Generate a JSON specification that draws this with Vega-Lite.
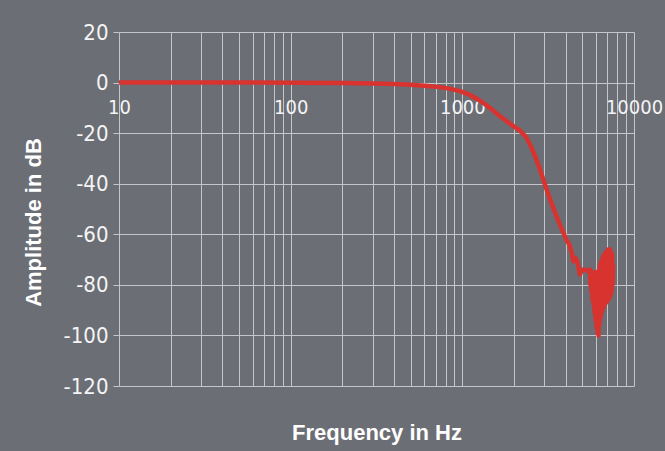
{
  "$schema": "https://vega.github.io/schema/vega-lite/v6.json",
  "width": 515,
  "height": 354,
  "autosize": "none",
  "padding": {"left": 119, "top": 32, "right": 31, "bottom": 65},
  "background": "#6b6e75",
  "config": {
    "view": {"stroke": null},
    "axis": {"labelFont": "Liberation Sans Narrow, Arial Narrow, DejaVu Sans Condensed, Roboto", "labelFontSize": 22, "labelColor": "#f4f4f4", "titleFont": "Liberation Sans", "titleFontWeight": "bold", "titleFontSize": 22, "titleColor": "#ffffff", "gridColor": "#c4c6ca", "gridWidth": 1, "gridOpacity": 1}
  },
  "data": {"values": [
    {"f": 10, "db": 0}, {"f": 50, "db": 0}, {"f": 100, "db": -0.05}, {"f": 200, "db": -0.2},
    {"f": 300, "db": -0.4}, {"f": 400, "db": -0.6}, {"f": 500, "db": -0.9}, {"f": 600, "db": -1.3},
    {"f": 741, "db": -1.8}, {"f": 850, "db": -2.5}, {"f": 968, "db": -3.4}, {"f": 1100, "db": -4.8},
    {"f": 1268, "db": -7.2}, {"f": 1450, "db": -10}, {"f": 1657, "db": -13.3}, {"f": 1900, "db": -16.3},
    {"f": 2166, "db": -19}, {"f": 2350, "db": -21.5}, {"f": 2479, "db": -24.5}, {"f": 2650, "db": -29},
    {"f": 2834, "db": -34.4}, {"f": 3097, "db": -42.3}, {"f": 3300, "db": -47.5}, {"f": 3545, "db": -53},
    {"f": 3800, "db": -58}, {"f": 4057, "db": -62.5}, {"f": 4200, "db": -64}, {"f": 4337, "db": -67.3},
    {"f": 4430, "db": -70.7}, {"f": 4527, "db": -69.3}, {"f": 4630, "db": -70}, {"f": 4731, "db": -72.6},
    {"f": 4839, "db": -75.9}, {"f": 4950, "db": -74.5}, {"f": 5062, "db": -73.9}, {"f": 5250, "db": -74.2},
    {"f": 5415, "db": -74.6}, {"f": 5540, "db": -74}, {"f": 5580, "db": -80}, {"f": 5620, "db": -75},
    {"f": 5660, "db": -83}, {"f": 5700, "db": -76}, {"f": 5740, "db": -86}, {"f": 5780, "db": -75},
    {"f": 5820, "db": -88}, {"f": 5850, "db": -76}, {"f": 5890, "db": -91}, {"f": 5930, "db": -75},
    {"f": 5970, "db": -94}, {"f": 6010, "db": -76}, {"f": 6050, "db": -97}, {"f": 6090, "db": -75},
    {"f": 6130, "db": -99}, {"f": 6170, "db": -76}, {"f": 6210, "db": -100}, {"f": 6250, "db": -74},
    {"f": 6290, "db": -96}, {"f": 6340, "db": -72}, {"f": 6380, "db": -93}, {"f": 6420, "db": -71},
    {"f": 6470, "db": -91}, {"f": 6510, "db": -70}, {"f": 6550, "db": -90}, {"f": 6600, "db": -69},
    {"f": 6640, "db": -89}, {"f": 6690, "db": -68}, {"f": 6730, "db": -88}, {"f": 6780, "db": -68},
    {"f": 6820, "db": -87}, {"f": 6870, "db": -67}, {"f": 6910, "db": -87}, {"f": 6960, "db": -67},
    {"f": 7010, "db": -86}, {"f": 7060, "db": -66}, {"f": 7100, "db": -86}, {"f": 7150, "db": -66},
    {"f": 7200, "db": -85}, {"f": 7250, "db": -66}, {"f": 7300, "db": -84}, {"f": 7350, "db": -67},
    {"f": 7400, "db": -83}, {"f": 7450, "db": -68}, {"f": 7500, "db": -80}, {"f": 7550, "db": -72}
  ]},
  "layer": [
    {
      "mark": {"type": "line", "color": "#d9332f", "strokeWidth": 4.5, "strokeJoin": "round", "clip": false},
      "encoding": {
        "x": {"field": "f", "type": "quantitative",
          "scale": {"type": "log", "domain": [10, 10000], "nice": false},
          "axis": {"orient": "bottom", "values": [10,20,30,40,50,60,70,80,90,100,200,300,400,500,600,700,800,900,1000,2000,3000,4000,5000,6000,7000,8000,9000,10000],
            "grid": true, "labels": false, "ticks": false, "domain": false,
            "title": "Frequency in Hz", "titleY": 46, "titleBaseline": "middle"}},
        "y": {"field": "db", "type": "quantitative",
          "scale": {"domain": [-120, 20], "nice": false, "zero": false},
          "axis": {"values": [-120,-100,-80,-60,-40,-20,0,20], "grid": true, "domain": false,
            "ticks": true, "tickSize": 6, "tickColor": "#c4c6ca", "labelPadding": 5, "labelFlush": false,
            "labelExpr": "'' + datum.value",
            "title": "Amplitude in dB", "titleX": -86, "titleY": 190, "titleBaseline": "middle"}}
      }
    },
    {
      "mark": {"type": "line", "opacity": 0},
      "encoding": {
        "x": {"field": "f", "type": "quantitative",
          "scale": {"type": "log", "domain": [10, 10000], "nice": false},
          "axis": {"orient": "bottom", "offset": -303, "values": [10, 100, 1000, 10000],
            "labelExpr": "'' + datum.value", "labelFlush": false, "labelOverlap": false, "labelFontSize": 20, "labelBound": false,
            "grid": false, "ticks": false, "domain": false, "labelPadding": 14, "title": null}},
        "y": {"field": "db", "type": "quantitative"}
      }
    }
  ],
  "resolve": {"axis": {"x": "independent"}}
}
